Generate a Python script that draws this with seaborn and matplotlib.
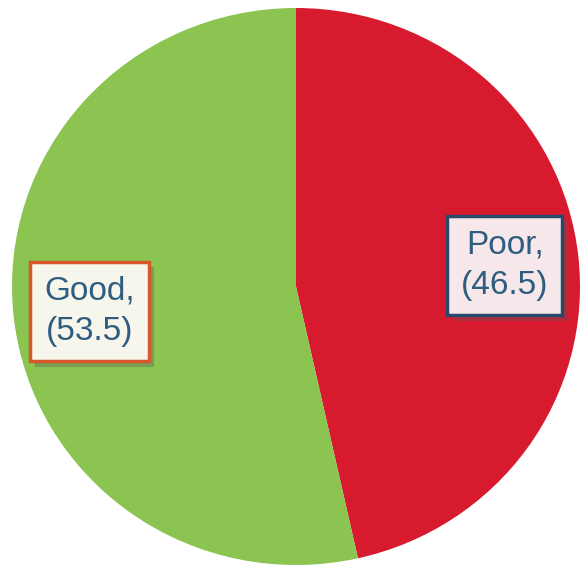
import matplotlib
matplotlib.use("Agg")
import matplotlib.pyplot as plt
import matplotlib.patheffects as pe
import seaborn as sns

sns.set_theme(style="white")
plt.rcParams['font.family'] = ['Liberation Sans', 'DejaVu Sans']

# --- data ---
categories = ["Poor", "Good"]
values = [46.5, 53.5]
colors = ["#D81A2E", "#8CC452"]

# label box styles (face, edge) and positions in data coords
box_faces = ["#F5E7EA", "#F7F6EC"]
box_edges = ["#274A6A", "#D8582A"]
label_pos = [(0.735, 0.075), (-0.728, -0.09)]
TEXT_COLOR = "#2F5D80"

fig = plt.figure(figsize=(5.83, 5.68), dpi=100)
ax = fig.add_axes([12 / 583, 3 / 568, 568 / 583, 557 / 568])

wedges, _ = ax.pie(values, colors=colors, startangle=90, counterclock=False,
                   radius=1.0, wedgeprops=dict(linewidth=0))
ax.set_aspect("auto")
ax.set_xlim(-1, 1)
ax.set_ylim(-1, 1)
ax.axis("off")

for cat, val, (x, y), fc, ec in zip(categories, values, label_pos, box_faces, box_edges):
    t = ax.text(x, y, f"{cat},\n({val})", ha="center", va="center",
                fontsize=24, color=TEXT_COLOR, linespacing=1.4,
                bbox=dict(boxstyle="square,pad=0.42", fc=fc, ec=ec, lw=2.5))
    t.get_bbox_patch().set_path_effects([
        pe.SimplePatchShadow(offset=(4, -4), alpha=0.35, shadow_rgbFace="#555555"),
        pe.Normal()])

fig.savefig("out.png", dpi=100, facecolor="white")
